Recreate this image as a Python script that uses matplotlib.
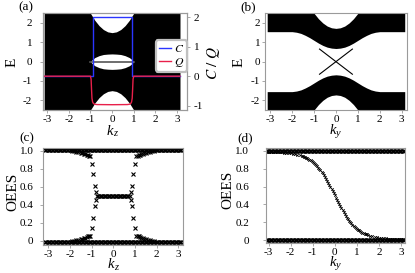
import numpy as np
import matplotlib.pyplot as plt

plt.rcParams['font.family'] = 'Liberation Serif'
plt.rcParams['mathtext.fontset'] = 'stix'
plt.rcParams['axes.unicode_minus'] = False

# ---- (a) bulk band envelope vs kz, and C/Q ----
kz_env = [-3.14, -1.4, -1.2, -1.0, -0.8, -0.6, -0.4, -0.2, 0.0,
          0.2, 0.4, 0.6, 0.8, 1.0, 1.2, 1.4, 3.14]
top_a = [3.0, 3.0, 2.85, 2.5, 2.14, 1.86, 1.66, 1.54, 1.5,
         1.54, 1.66, 1.86, 2.14, 2.5, 2.85, 3.0, 3.0]
kz_lens = [-1.0, -0.9, -0.8, -0.6, -0.4, -0.2, 0.0, 0.2, 0.4, 0.6, 0.8, 0.9, 1.0]
gap_a = [0.0, 0.12, 0.21, 0.31, 0.37, 0.39, 0.4, 0.39, 0.37, 0.31, 0.21, 0.12, 0.0]

kz_c = [-3.14, -0.9, -0.9, 0.9, 0.9, 3.14]
chern = [0, 0, 2, 2, 0, 0]
kz_q = [-3.14, -1.0, -0.97, -0.95, -0.93, -0.9, -0.86, -0.8, -0.7, 0.0,
        0.7, 0.8, 0.86, 0.9, 0.93, 0.95, 0.97, 1.0, 3.14]
charge = [0, 0, -0.1, -0.45, -0.75, -0.88, -0.93, -0.955, -0.965, -0.97,
          -0.965, -0.955, -0.93, -0.88, -0.75, -0.45, -0.1, 0, 0]

# ---- (b) bulk band envelope vs ky ----
ky_env = [-3.14, -2.5, -2.0, -1.8, -1.6, -1.4, -1.2, -1.0, -0.8, -0.6, -0.4, -0.2, 0.0,
          0.2, 0.4, 0.6, 0.8, 1.0, 1.2, 1.4, 1.6, 1.8, 2.0, 2.5, 3.14]
bottom_b = [1.55, 1.55, 1.55, 1.52, 1.46, 1.36, 1.24, 1.1, 0.96, 0.84, 0.75, 0.7, 0.68,
            0.7, 0.75, 0.84, 0.96, 1.1, 1.24, 1.36, 1.46, 1.52, 1.55, 1.55, 1.55]
top_b = [3.0, 3.0, 3.0, 3.0, 3.0, 3.0, 2.85, 2.5, 2.22, 2.0, 1.84, 1.75, 1.72,
         1.75, 1.84, 2.0, 2.22, 2.5, 2.85, 3.0, 3.0, 3.0, 3.0, 3.0, 3.0]
ky_edge = [-0.75, 0.75]
e_edge = [0.65, -0.65]

# ---- (c) OEES vs kz ----
levels_c = [1.015, -0.015]
kz_up = [-1.9, -1.8, -1.7, -1.6, -1.5, -1.42, -1.35, -1.28, -1.22, -1.17, -1.12,
         -1.06, -1.0, -0.93, -0.86, -0.8]
oees_up = [1.0, 0.997, 0.993, 0.988, 0.982, 0.976, 0.97, 0.963, 0.956, 0.95, 0.945,
           0.94, 0.86, 0.74, 0.61, 0.54]
oees_dn = [0.0, 0.003, 0.007, 0.012, 0.018, 0.024, 0.03, 0.037, 0.044, 0.05, 0.055,
           0.06, 0.14, 0.26, 0.39, 0.46]
kz_up_r = [1.9, 1.8, 1.7, 1.6, 1.5, 1.42, 1.35, 1.28, 1.22, 1.17, 1.12,
           1.06, 1.0, 0.93, 0.86, 0.8]
plateau = (-0.78, 0.78, 0.5)

# ---- (d) OEES vs ky ----
levels_d = [1.0, 0.0]
ky_d = [-3.1, -3.0, -2.9, -2.8, -2.7, -2.6, -2.5, -2.4, -2.3, -2.2, -2.1, -2.0, -1.9,
        -1.8, -1.7, -1.6, -1.5, -1.45, -1.4, -1.35, -1.3, -1.25, -1.2, -1.15, -1.1,
        -1.05, -1.0, -0.95, -0.9, -0.85, -0.8, -0.75, -0.7, -0.65, -0.6, -0.55, -0.5,
        -0.45, -0.4, -0.35, -0.3, -0.25, -0.2, -0.15, -0.1, -0.05, 0.0,
        0.05, 0.1, 0.15, 0.2, 0.25, 0.3, 0.35, 0.4, 0.45, 0.5, 0.55, 0.6, 0.65, 0.7,
        0.75, 0.8, 0.85, 0.9, 0.95, 1.0, 1.05, 1.1, 1.15, 1.2, 1.25, 1.3, 1.35, 1.4,
        1.45, 1.5, 1.6, 1.7, 1.8, 1.9, 2.0, 2.1, 2.2, 2.3, 2.4, 2.5, 2.6, 2.7, 2.8,
        2.9, 3.0, 3.1]
oees_d = [0.993, 0.992, 0.991, 0.990, 0.989, 0.988, 0.986, 0.984, 0.982, 0.979, 0.976,
          0.972, 0.968, 0.963, 0.957, 0.950, 0.942, 0.938, 0.933, 0.928, 0.922, 0.916,
          0.909, 0.901, 0.893, 0.884, 0.875, 0.864, 0.853, 0.841, 0.828, 0.814, 0.800,
          0.783, 0.765, 0.748, 0.730, 0.710, 0.690, 0.668, 0.645, 0.623, 0.600, 0.575,
          0.550, 0.525, 0.500,
          0.475, 0.45, 0.425, 0.40, 0.377, 0.355, 0.332, 0.31, 0.29, 0.27, 0.252, 0.235,
          0.217, 0.2, 0.186, 0.172, 0.159, 0.147, 0.136, 0.125, 0.116, 0.107, 0.099,
          0.091, 0.084, 0.078, 0.072, 0.067, 0.062, 0.058, 0.05, 0.043, 0.037, 0.032,
          0.028, 0.024, 0.021, 0.018, 0.016, 0.014, 0.012, 0.011, 0.010, 0.009, 0.008,
          0.007]

k_grid = np.linspace(-np.pi, np.pi, 101)

W, H = 415, 273
fig = plt.figure(figsize=(W / 100, H / 100), dpi=100)


def px_axes(l, t, r, b):
    return fig.add_axes([l / W, 1 - b / H, (r - l) / W, (b - t) / H])


def style(ax, ypad):
    for s in ax.spines.values():
        s.set_color('#9a9a9a')
        s.set_linewidth(0.8)
    ax.tick_params(axis='both', length=2, width=0.6, color='#9a9a9a', labelsize=8)
    ax.tick_params(axis='x', pad=1.5)
    ax.tick_params(axis='y', pad=ypad)


# (a)
ax_a = px_axes(43.3, 13.3, 186.7, 110)
ax_a.fill_between(kz_env, -np.array(top_a), top_a, color='black', lw=0)
ax_a.fill_between(kz_lens, -np.array(gap_a), gap_a, color='white', lw=0)
ax_a.plot([-1, 1], [0, 0], color='#555555', lw=1.2)
ax_a.set_xlim(-3.18, 3.45)
ax_a.set_ylim(-2.5, 2.5)
ax_a.set_xticks([-3, -2, -1, 0, 1, 2, 3])
ax_a.set_yticks([-2, -1, 0, 1, 2])
style(ax_a, 6)
ax2 = ax_a.twinx()
ax2.plot(kz_c, chern, color='#2a35ff', lw=1.0, label='$C$')
ax2.plot(kz_q, charge, color='#e8204a', lw=1.0, label='$Q$')
ax2.set_ylim(-1.15, 2.14)
ax2.set_yticks([-1, 0, 1, 2])
style(ax2, 3)
leg = ax2.legend(loc='center', bbox_to_anchor=(0.894, 0.558), fontsize=8.5,
                 handlelength=1.0, handletextpad=0.3, borderpad=0.25,
                 labelspacing=0.05, fancybox=True, framealpha=1)
leg.get_frame().set_edgecolor('#c0c0c0')
leg.get_frame().set_linewidth(1.6)

# (b)
ax_b = px_axes(265, 13.3, 406.7, 110)
ax_b.fill_between(ky_env, bottom_b, top_b, color='black', lw=0)
ax_b.fill_between(ky_env, -np.array(top_b), -np.array(bottom_b), color='black', lw=0)
ax_b.plot(ky_edge, e_edge, color='black', lw=0.8)
ax_b.plot(ky_edge, e_edge[::-1], color='black', lw=0.8)
ax_b.set_xlim(-3.24, 3.23)
ax_b.set_ylim(-2.5, 2.5)
ax_b.set_xticks([-3, -2, -1, 0, 1, 2, 3])
ax_b.set_yticks([-2, -1, 0, 1, 2])
style(ax_b, 1.5)

# (c)
ax_c = px_axes(43.3, 148.3, 182.7, 245)
mk = dict(ls='none', marker='x', color='black', ms=2.4, mew=0.8)
for lv in levels_c:
    ax_c.plot(k_grid, np.full_like(k_grid, lv), **mk)
pk = k_grid[(k_grid >= plateau[0]) & (k_grid <= plateau[1])]
ax_c.plot(pk, np.full_like(pk, plateau[2]), **mk)
ax_c.plot(kz_up, oees_up, **mk)
ax_c.plot(kz_up, oees_dn, **mk)
ax_c.plot(kz_up_r, oees_up, **mk)
ax_c.plot(kz_up_r, oees_dn, **mk)
ax_c.set_xlim(-3.22, 3.2)
ax_c.set_ylim(-0.045, 1.03)
ax_c.set_xticks([-3, -2, -1, 0, 1, 2, 3])
ax_c.set_yticks([0, 0.2, 0.4, 0.6, 0.8, 1.0])
ax_c.set_yticklabels(['0', '0.2', '0.4', '0.6', '0.8', '1.0'])
style(ax_c, 5)

# (d)
ax_d = px_axes(266, 148.3, 405, 243.3)
for lv in levels_d:
    ax_d.plot(k_grid, np.full_like(k_grid, lv), **mk)
ax_d.plot(ky_d, oees_d, ls='none', marker='x', color='black', ms=1.8, mew=0.6)
ax_d.set_xlim(-3.12, 3.18)
ax_d.set_ylim(-0.037, 1.03)
ax_d.set_xticks([-3, -2, -1, 0, 1, 2, 3])
ax_d.set_yticks([0, 0.2, 0.4, 0.6, 0.8, 1.0])
ax_d.set_yticklabels(['0', '0.2', '0.4', '0.6', '0.8', '1.0'])
style(ax_d, 10)


def ftext(x, y, s, **kw):
    fig.text(x / W, 1 - y / H, s, ha='center', va='center', **kw)


def klabel(x, y, sub):
    # italic k with a small subscript, as plain text to keep the box tight
    ftext(x - 2, y, 'k', fontsize=10.5, style='italic')
    ftext(x + 3, y + 3, sub, fontsize=7.5, style='italic')


ftext(26, 7, '(a)', fontsize=9.5)
ftext(248, 7, '(b)', fontsize=9.5)
ftext(27, 138, '(c)', fontsize=9.5)
ftext(245, 138, '(d)', fontsize=9.5)
ftext(12.5, 62, 'E', fontsize=11, rotation=90)
ftext(239, 62, 'E', fontsize=11, rotation=90)
ftext(213, 63, '$C\\ /\\ Q$', fontsize=11, rotation=90)
ftext(13, 192, 'OEES', fontsize=11, rotation=90)
ftext(228, 190, 'OEES', fontsize=11, rotation=90)
klabel(112, 131, 'z')
klabel(335, 130.5, 'y')
klabel(113, 264, 'z')
klabel(335, 263, 'y')

fig.savefig('out.png', dpi=100)
